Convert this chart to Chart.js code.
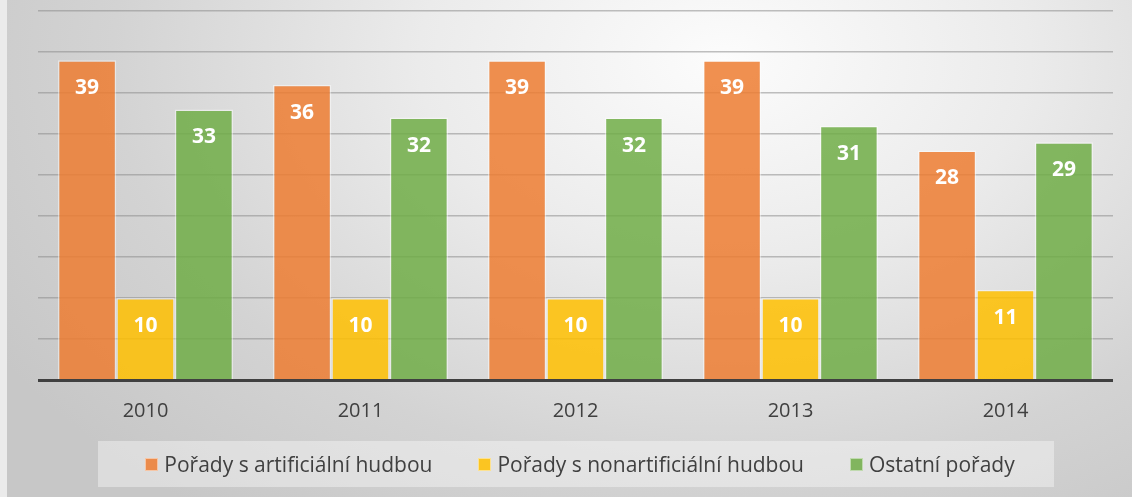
<!DOCTYPE html>
<html>
<head>
<meta charset="utf-8">
<script src="https://cdn.jsdelivr.net/npm/chart.js@4/dist/chart.umd.min.js"></script>
<style>
    html, body { margin: 0; padding: 0; }
    body { width: 1132px; height: 497px; overflow: hidden; font-family: "Open Sans", sans-serif; }
    #wrap {
        position: relative; width: 1132px; height: 497px;
        background: radial-gradient(ellipse 75% 115% at 64% 12%, #fcfcfc 0%, #ebebeb 36%, #d3d3d3 72%, #c7c7c7 100%);
    }
    #edge { position: absolute; left: 0; top: 0; width: 7px; height: 497px; background: #ebebeb; }
    #legend {
        position: absolute; left: 98px; top: 441px; width: 956px; height: 46px;
        background: rgba(255, 255, 255, 0.38);
        display: flex; align-items: center; justify-content: center; gap: 46px;
        padding-left: 8px; box-sizing: border-box;
        font-size: 21px; color: #404040;
    }
    #legend span.item { display: flex; align-items: center; white-space: nowrap; }
    #legend span.box { width: 11px; height: 11px; margin-right: 6px; border: 1px solid rgba(255,255,255,0.5); }
</style>
</head>
<body>
<div id="wrap">
    <div id="edge"></div>
    <canvas id="barChart"></canvas>
    <div id="legend"></div>
</div>
<script>
const years = ['2010', '2011', '2012', '2013', '2014'];
const artificial = [39, 36, 39, 39, 28];
const nonArtificial = [10, 10, 10, 10, 11];
const otherShows = [33, 32, 32, 31, 29];
const seriesNames = ['Pořady s artificiální hudbou', 'Pořady s nonartificiální hudbou', 'Ostatní pořady'];
const seriesColors = ['rgba(237, 125, 49, 0.85)', 'rgba(255, 192, 0, 0.85)', 'rgba(112, 173, 71, 0.85)'];

const valueLabels = {
    id: 'valueLabels',
    afterDatasetsDraw(chart) {
        const ctx = chart.ctx;
        ctx.save();
        ctx.font = 'bold 21px "Open Sans"';
        ctx.fillStyle = '#ffffff';
        ctx.textAlign = 'center';
        ctx.textBaseline = 'middle';
        chart.data.datasets.forEach((ds, i) => {
            chart.getDatasetMeta(i).data.forEach((bar, j) => {
                ctx.fillText(ds.data[j], bar.x, bar.y + 28);
            });
        });
        // baseline over the bars
        const area = chart.chartArea;
        ctx.strokeStyle = '#404040';
        ctx.lineWidth = 3;
        ctx.beginPath();
        ctx.moveTo(area.left, area.bottom + 0.5);
        ctx.lineTo(area.right, area.bottom + 0.5);
        ctx.stroke();
        ctx.restore();
    }
};

const datasets = [artificial, nonArtificial, otherShows].map((values, i) => ({
    label: seriesNames[i],
    data: values,
    backgroundColor: seriesColors[i],
    borderColor: 'rgba(255, 255, 255, 0.45)',
    borderWidth: 1.5,
    barPercentage: 1.0,
    categoryPercentage: 0.815
}));

new Chart(document.getElementById('barChart'), {
    type: 'bar',
    data: { labels: years, datasets: datasets },
    options: {
        responsive: true,
        maintainAspectRatio: false,
        animation: false,
        layout: { padding: { left: 38, right: 19, top: 11, bottom: 55 } },
        plugins: {
            legend: { display: false },
            tooltip: { enabled: false }
        },
        scales: {
            x: {
                grid: { display: false, drawTicks: false },
                border: { display: false },
                ticks: { color: '#404040', padding: 19, font: { family: 'Open Sans', size: 20 } }
            },
            y: {
                min: 0,
                max: 45,
                grid: { color: 'rgba(140, 140, 140, 0.55)', lineWidth: 1.5, drawTicks: false },
                border: { display: false },
                ticks: { display: false, stepSize: 5 }
            }
        }
    },
    plugins: [valueLabels]
});

const legend = document.getElementById('legend');
seriesNames.forEach((name, i) => {
    const item = document.createElement('span');
    item.className = 'item';
    const box = document.createElement('span');
    box.className = 'box';
    box.style.background = seriesColors[i];
    item.appendChild(box);
    item.appendChild(document.createTextNode(name));
    legend.appendChild(item);
});
</script>
</body>
</html>
